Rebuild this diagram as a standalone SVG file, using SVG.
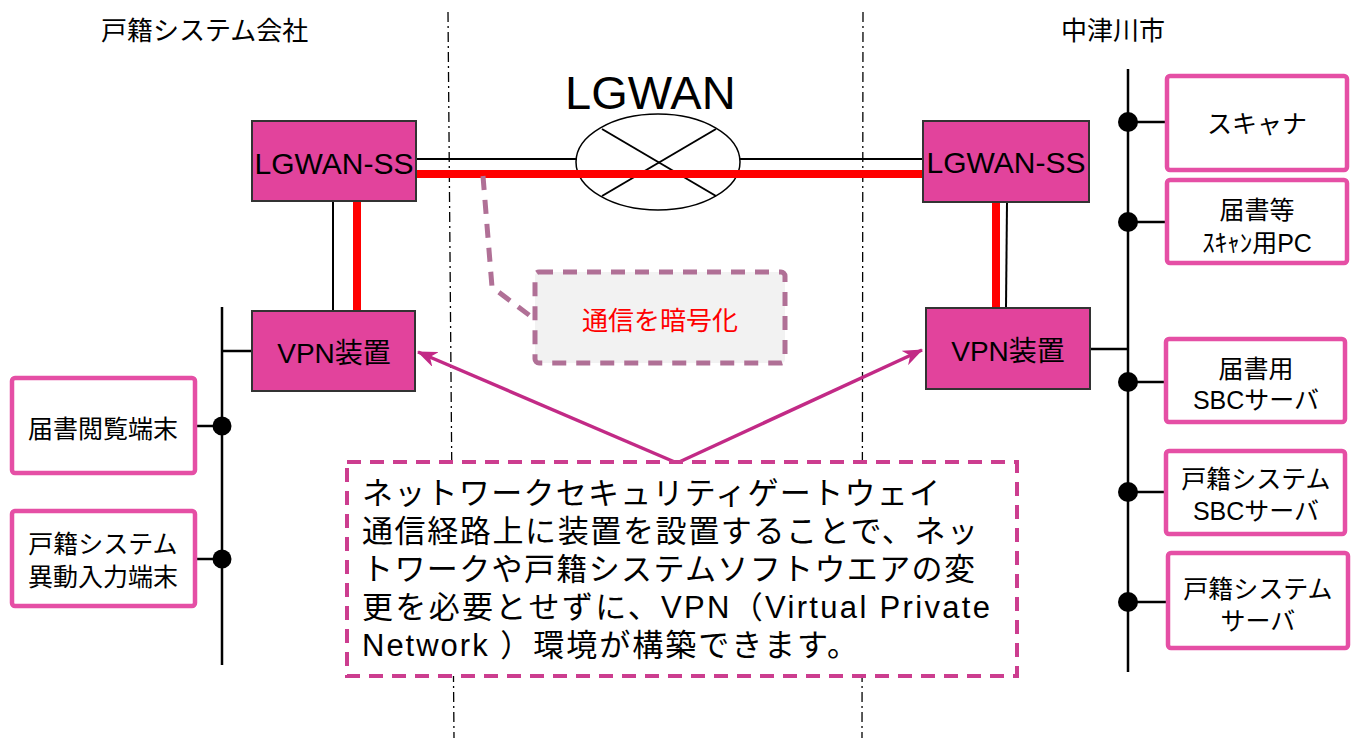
<svg xmlns="http://www.w3.org/2000/svg" width="1355" height="738" viewBox="0 0 1355 738">
  <style>
    text { font-family: "Liberation Sans", "Noto Sans CJK JP", sans-serif; fill: #000; }
    .dev { fill: #E2439C; stroke: #333; stroke-width: 2; }
    .dev-label { font-size: 30px; text-anchor: middle; }
    .vpn-label { font-size: 28px; text-anchor: middle; }
    .term { fill: #fff; stroke: #E54FA5; stroke-width: 4.5; }
    .term-label { font-size: 25px; text-anchor: middle; }
    .bus { stroke: #000; stroke-width: 2.5; fill: none; }
    .dot { fill: #000; }
    .zone { stroke: #000; stroke-width: 1.3; stroke-dasharray: 10 4 2 4; fill: none; }
    .wire { stroke: #000; stroke-width: 2; fill: none; }
    .secure { stroke: #FF0000; stroke-width: 8; fill: none; }
    .pointer { stroke: #C22A86; stroke-width: 3.5; fill: none; }
    .site { font-size: 26px; }
  </style>
  <defs>
    <marker id="barb" viewBox="0 0 20 16" refX="19" refY="8" markerWidth="20" markerHeight="16" markerUnits="userSpaceOnUse" orient="auto">
      <path d="M0,0 L20,8 L0,16 L6,8 z" fill="#C22A86"/>
    </marker>
  </defs>

  <rect width="1355" height="738" fill="#fff"/>

  <!-- zone boundaries -->
  <g id="zones">
    <line class="zone" x1="448" y1="12" x2="454" y2="738"/>
    <line class="zone" x1="863" y1="12" x2="862" y2="738"/>
  </g>

  <!-- site titles -->
  <text class="site" x="101" y="40">戸籍システム会社</text>
  <text class="site" x="1061" y="40">中津川市</text>

  <!-- LGWAN cloud -->
  <g id="lgwan">
    <text x="565" y="109" font-size="47">LGWAN</text>
    <ellipse cx="658" cy="162" rx="82" ry="48" fill="#fff" stroke="#000" stroke-width="1.5"/>
    <line x1="602" y1="129" x2="716" y2="196" stroke="#000" stroke-width="2"/>
    <line x1="716" y1="129" x2="602" y2="196" stroke="#000" stroke-width="2"/>
  </g>

  <!-- connectors -->
  <g id="connectors">
    <!-- WAN trunk: plain line above, encrypted path below -->
    <line class="wire" x1="416" y1="159" x2="577" y2="159"/>
    <line class="wire" x1="740" y1="159" x2="923" y2="159"/>
    <line class="secure" x1="416" y1="174" x2="923" y2="174"/>
    <!-- SS to VPN drops -->
    <line class="wire" x1="333" y1="201" x2="333" y2="311"/>
    <line class="secure" x1="357" y1="201" x2="357" y2="311"/>
    <line class="wire" x1="1007" y1="202" x2="1006" y2="308"/>
    <line class="secure" x1="996" y1="202" x2="996" y2="308"/>
    <!-- left LAN -->
    <line class="bus" x1="222" y1="307" x2="222" y2="665"/>
    <line class="bus" x1="222" y1="351" x2="252" y2="351"/>
    <line class="bus" x1="195" y1="426" x2="222" y2="426"/>
    <line class="bus" x1="195" y1="559" x2="222" y2="559"/>
    <circle class="dot" cx="222" cy="426" r="9.5"/>
    <circle class="dot" cx="222" cy="559" r="9.5"/>
    <!-- right LAN -->
    <line class="bus" x1="1128" y1="69" x2="1128" y2="672"/>
    <line class="bus" x1="1090" y1="349" x2="1128" y2="349"/>
    <line class="bus" x1="1128" y1="122" x2="1167" y2="122"/>
    <line class="bus" x1="1128" y1="222" x2="1167" y2="222"/>
    <line class="bus" x1="1128" y1="382" x2="1166" y2="382"/>
    <line class="bus" x1="1128" y1="492" x2="1166" y2="492"/>
    <line class="bus" x1="1128" y1="602" x2="1168" y2="602"/>
    <circle class="dot" cx="1128" cy="122" r="10"/>
    <circle class="dot" cx="1128" cy="222" r="10"/>
    <circle class="dot" cx="1128" cy="382" r="10"/>
    <circle class="dot" cx="1128" cy="492" r="10"/>
    <circle class="dot" cx="1128" cy="602" r="10"/>
    <!-- callout pointers -->
    <line class="pointer" x1="677" y1="463" x2="418" y2="352" marker-end="url(#barb)"/>
    <line class="pointer" x1="677" y1="463" x2="922" y2="350" marker-end="url(#barb)"/>
    <path d="M483,176 L492,287 L533,318" fill="none" stroke="#B07096" stroke-width="5" stroke-dasharray="14 10"/>
  </g>

  <!-- gateway devices -->
  <g id="ss-left">
    <rect class="dev" x="252" y="121" width="164" height="80"/>
    <text class="dev-label" x="334" y="174">LGWAN-SS</text>
  </g>
  <g id="ss-right">
    <rect class="dev" x="923" y="121" width="166" height="81"/>
    <text class="dev-label" x="1006" y="173">LGWAN-SS</text>
  </g>
  <g id="vpn-left">
    <rect class="dev" x="252" y="311" width="163" height="80"/>
    <text class="vpn-label" x="334" y="363">VPN装置</text>
  </g>
  <g id="vpn-right">
    <rect class="dev" x="926" y="308" width="164" height="81"/>
    <text class="vpn-label" x="1008" y="361">VPN装置</text>
  </g>

  <!-- left terminals -->
  <g id="term-view">
    <rect class="term" x="12" y="378" width="183" height="95" rx="3"/>
    <text class="term-label" x="103" y="438">届書閲覧端末</text>
  </g>
  <g id="term-input">
    <rect class="term" x="12" y="511" width="183" height="95" rx="3"/>
    <text class="term-label" x="103" y="553">戸籍システム</text>
    <text class="term-label" x="103" y="586">異動入力端末</text>
  </g>

  <!-- right equipment -->
  <g id="scanner">
    <rect class="term" x="1167" y="76" width="180" height="94" rx="3"/>
    <text class="term-label" x="1257" y="133">スキャナ</text>
  </g>
  <g id="scan-pc">
    <rect class="term" x="1167" y="180" width="180" height="83" rx="3"/>
    <text class="term-label" x="1257" y="219">届書等</text>
    <text class="term-label" x="1257" y="252">ｽｷｬﾝ用PC</text>
  </g>
  <g id="sbc-notice">
    <rect class="term" x="1166" y="339" width="179" height="83" rx="3"/>
    <text class="term-label" x="1256" y="378">届書用</text>
    <text class="term-label" x="1256" y="409">SBCサーバ</text>
  </g>
  <g id="sbc-koseki">
    <rect class="term" x="1166" y="451" width="179" height="83" rx="3"/>
    <text class="term-label" x="1256" y="488">戸籍システム</text>
    <text class="term-label" x="1256" y="520">SBCサーバ</text>
  </g>
  <g id="koseki-server">
    <rect class="term" x="1168" y="553" width="180" height="95" rx="3"/>
    <text class="term-label" x="1258" y="598">戸籍システム</text>
    <text class="term-label" x="1258" y="630">サーバ</text>
  </g>

  <!-- encryption note -->
  <g id="note-encrypt">
    <rect x="535" y="272" width="250" height="91" rx="4" fill="#F2F2F2" stroke="#B07096" stroke-width="5" stroke-dasharray="14 10"/>
    <text x="660" y="330" font-size="26" text-anchor="middle" style="fill:#FF0000">通信を暗号化</text>
  </g>

  <!-- gateway description -->
  <g id="note-gateway">
    <rect x="347" y="462" width="670" height="214" fill="#fff" stroke="#CC3D8F" stroke-width="4" stroke-dasharray="14 9"/>
    <g font-size="31">
      <text x="362" y="504" textLength="578" lengthAdjust="spacing">ネットワークセキュリティゲートウェイ</text>
      <text x="362" y="542" textLength="616" lengthAdjust="spacing">通信経路上に装置を設置することで、ネッ</text>
      <text x="362" y="580" textLength="613" lengthAdjust="spacing">トワークや戸籍システムソフトウエアの変</text>
      <text x="362" y="618" textLength="628" lengthAdjust="spacing">更を必要とせずに、VPN（Virtual Private</text>
      <text x="362" y="656" textLength="496" lengthAdjust="spacing">Network ）環境が構築できます。</text>
    </g>
  </g>
</svg>
